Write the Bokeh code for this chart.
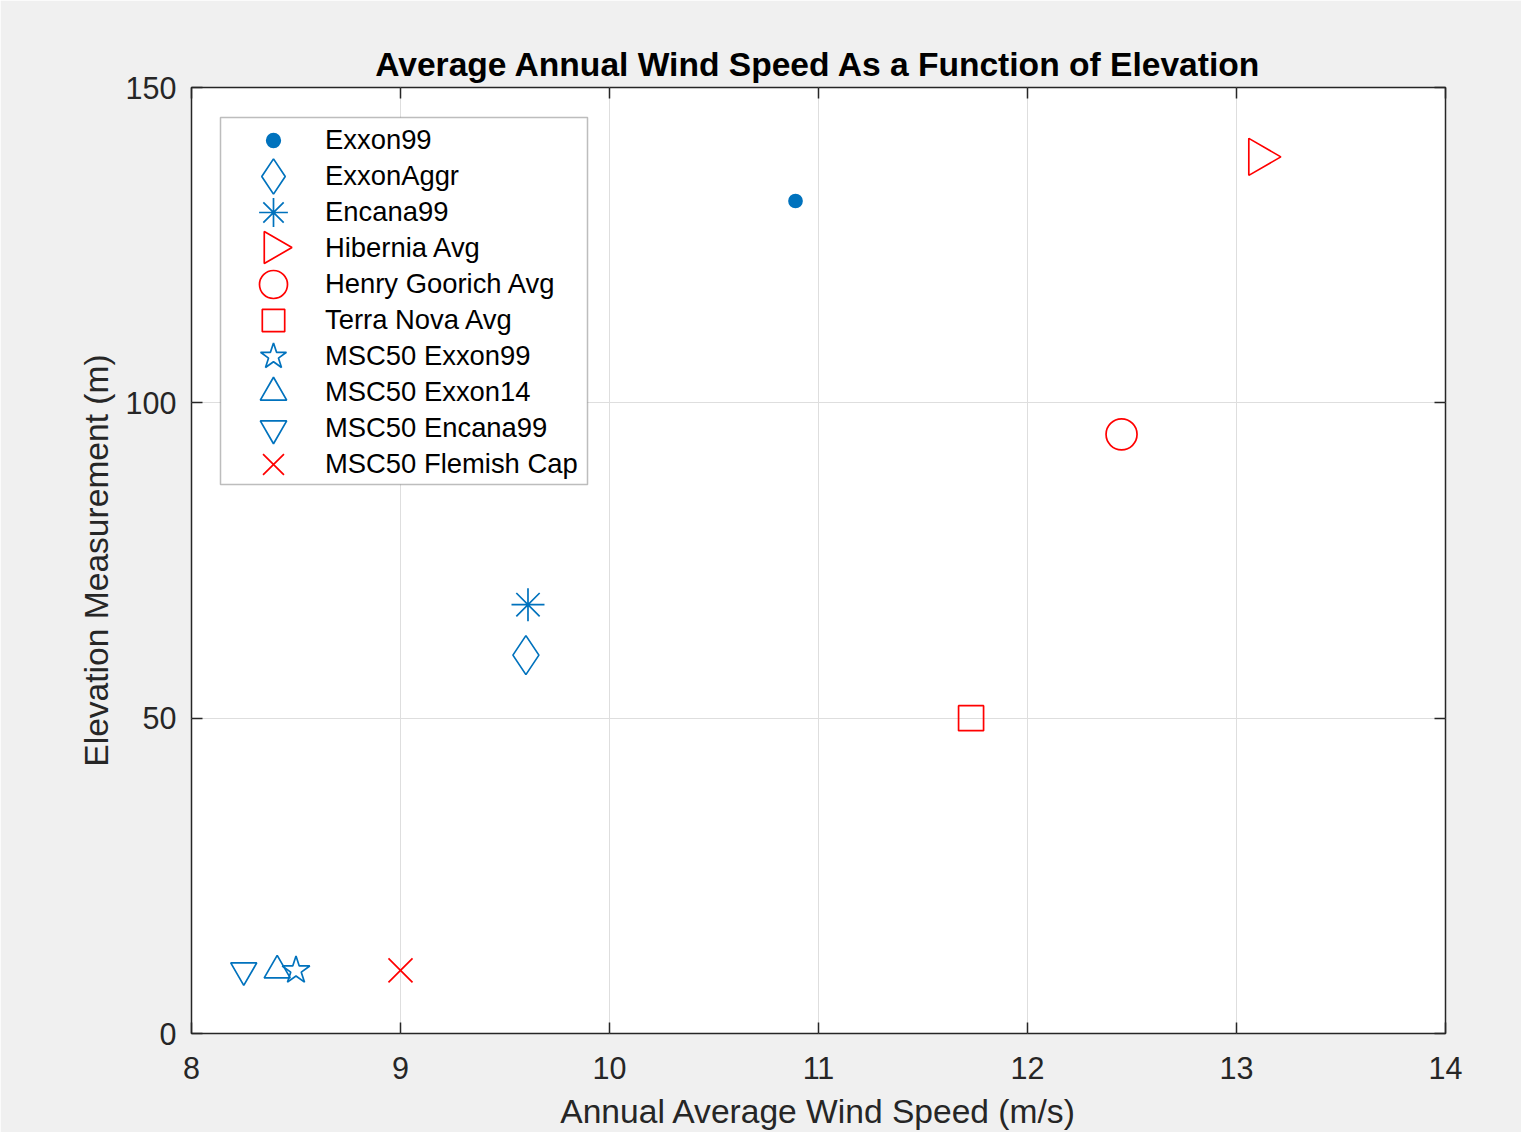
import math
from bokeh.plotting import figure
from bokeh.models import (Legend, LegendItem, LinearAxis, FixedTicker, BoxAnnotation,
                          Range1d, CustomLabelingPolicy)
from bokeh.embed import file_html
from bokeh.resources import INLINE
from bokeh.core.properties import value

# ---------------- data ----------------
series_names = ["Exxon99", "ExxonAggr", "Encana99", "Hibernia Avg", "Henry Goorich Avg",
                "Terra Nova Avg", "MSC50 Exxon99", "MSC50 Exxon14", "MSC50 Encana99",
                "MSC50 Flemish Cap"]
wind_speed = [10.89, 9.60, 9.61, 13.11, 12.45, 11.73, 8.50, 8.41, 8.25, 9.00]
elevation = [132, 60, 68, 139, 95, 50, 10, 10, 10, 10]

x_ticks = [8, 9, 10, 11, 12, 13, 14]
y_ticks = [0, 50, 100, 150]

# ---------------- styles ----------------
BLUE = "#0072BD"
RED = "#FF0000"
DARK = "#262626"
FONT = "Liberation Sans"
LW = 1.7

# size = marker size in the plot, lkey = legend key box (key marker size = 0.4 * lkey)
styles = [
    dict(marker="circle", size=13, color=BLUE, filled=True, lkey=34),
    dict(marker="diamond", size=39, color=BLUE, lkey=88),
    dict(marker="asterisk", size=33, color=BLUE, lkey=72),
    dict(marker="triangle", size=37, color=RED, angle=-math.pi / 2, lkey=None, rkey=32),
    dict(marker="circle", size=31, color=RED, lkey=70),
    dict(marker="square", size=25, color=RED, lkey=56),
    dict(marker="star", size=29, color=BLUE, lkey=68),
    dict(marker="triangle", size=26, color=BLUE, lkey=66),
    dict(marker="inverted_triangle", size=26, color=BLUE, lkey=66),
    dict(marker="x", size=34, color=RED, lkey=74),
]

FRAME_W, FRAME_H = 1254, 946
p = figure(frame_width=FRAME_W, frame_height=FRAME_H,
           x_range=Range1d(8, 14), y_range=Range1d(0, 150),
           output_backend="svg", toolbar_location=None,
           min_border_left=191, min_border_right=76, min_border_top=87, min_border_bottom=96,
           background_fill_color="white", border_fill_color="#f0f0f0")
# pixel ranges of the frame, used only to place the legend box / rotated key
p.extra_x_ranges = {"px": Range1d(0, FRAME_W)}
p.extra_y_ranges = {"px": Range1d(0, FRAME_H)}

p.outline_line_color = DARK
p.outline_line_width = 1.5

# title
p.title.text = "Average Annual Wind Speed As a Function of Elevation"
p.title.align = "center"
p.title.text_font = FONT
p.title.text_font_size = "33.6px"
p.title.text_font_style = "bold"
p.title.text_color = "#000000"
p.title.standoff = 10

def style_axis(ax, ticks):
    ax.ticker = FixedTicker(ticks=ticks)
    ax.axis_line_color = None
    ax.major_tick_in = 11
    ax.major_tick_out = 0
    ax.major_tick_line_color = DARK
    ax.major_tick_line_width = 1.5
    ax.minor_tick_line_color = None
    ax.major_label_text_font = FONT
    ax.major_label_text_color = DARK
    ax.axis_label_text_font = FONT
    ax.axis_label_text_font_style = "normal"
    ax.axis_label_text_color = DARK

xa = p.xaxis[0]
style_axis(xa, x_ticks)
xa.major_label_text_font_size = "30.5px"
xa.major_label_standoff = 23
xa.axis_label = "Annual Average Wind Speed (m/s)"
xa.axis_label_text_font_size = "33.6px"
xa.axis_label_standoff = 11

ya = p.yaxis[0]
style_axis(ya, y_ticks)
ya.major_label_text_font_size = "30.5px"
ya.major_label_standoff = 15
ya.axis_label = "Elevation Measurement (m)"
ya.axis_label_text_font_size = "33.6px"
ya.axis_label_standoff = 8

# box-style ticks on the top and right edges (no labels)
for loc, ticks in [("above", x_ticks), ("right", y_ticks)]:
    ax = LinearAxis()
    style_axis(ax, ticks)
    ax.major_label_policy = CustomLabelingPolicy(code="return new Set()")
    ax.major_label_text_font_size = "0px"
    ax.major_label_standoff = 0
    p.add_layout(ax, loc)

p.xgrid.ticker = FixedTicker(ticks=x_ticks)
p.ygrid.ticker = FixedTicker(ticks=y_ticks)
for g in (p.xgrid, p.ygrid):
    g.grid_line_color = "#dedede"
    g.grid_line_width = 1

# ---------------- markers ----------------
renderers = []
for i, st in enumerate(styles):
    r = p.scatter(x=[wind_speed[i]], y=[elevation[i]], marker=st["marker"], size=st["size"],
                  line_color=st["color"], line_width=LW,
                  fill_color=st["color"] if st.get("filled") else None,
                  angle=st.get("angle", 0.0))
    renderers.append(r)

# ---------------- legend ----------------
# legend geometry, in pixels relative to the frame's top-left
LEG_L, LEG_R, LEG_T, LEG_B = 29, 396, 30, 397
ROW0, ROW = 53, 36
KEY_CX, TEXT_X = 82, 134

p.add_layout(BoxAnnotation(left=LEG_L, right=LEG_R, top=FRAME_H - LEG_T, bottom=FRAME_H - LEG_B,
                           x_range_name="px", y_range_name="px", level="underlay",
                           fill_color="white", fill_alpha=1.0,
                           line_color=DARK, line_width=1.5))

for i, (name, st) in enumerate(zip(series_names, styles)):
    cy = ROW0 + ROW * i
    g = st["lkey"] if st["lkey"] is not None else 72
    rs = [renderers[i]] if st["lkey"] is not None else []
    leg = Legend(items=[LegendItem(label=value(name), renderers=rs)],
                 location=(KEY_CX - g / 2, FRAME_H - (cy + g / 2)),
                 padding=0, spacing=0, margin=0, glyph_width=g, glyph_height=g,
                 label_standoff=(TEXT_X - KEY_CX) - g // 2, label_width=0, label_height=0,
                 label_text_font=FONT, label_text_font_size="27.4px", label_text_color="#000000",
                 border_line_color=None, background_fill_alpha=0)
    p.add_layout(leg, "center")
    if st["lkey"] is None:
        # rotated legend key (Bokeh legends draw marker keys unrotated)
        p.scatter(x=[KEY_CX], y=[FRAME_H - (cy - 1)], x_range_name="px", y_range_name="px",
                  marker=st["marker"], size=st["rkey"], angle=st["angle"],
                  line_color=st["color"], line_width=LW, fill_color=None)

open("out.html", "w").write(file_html(p, INLINE))
